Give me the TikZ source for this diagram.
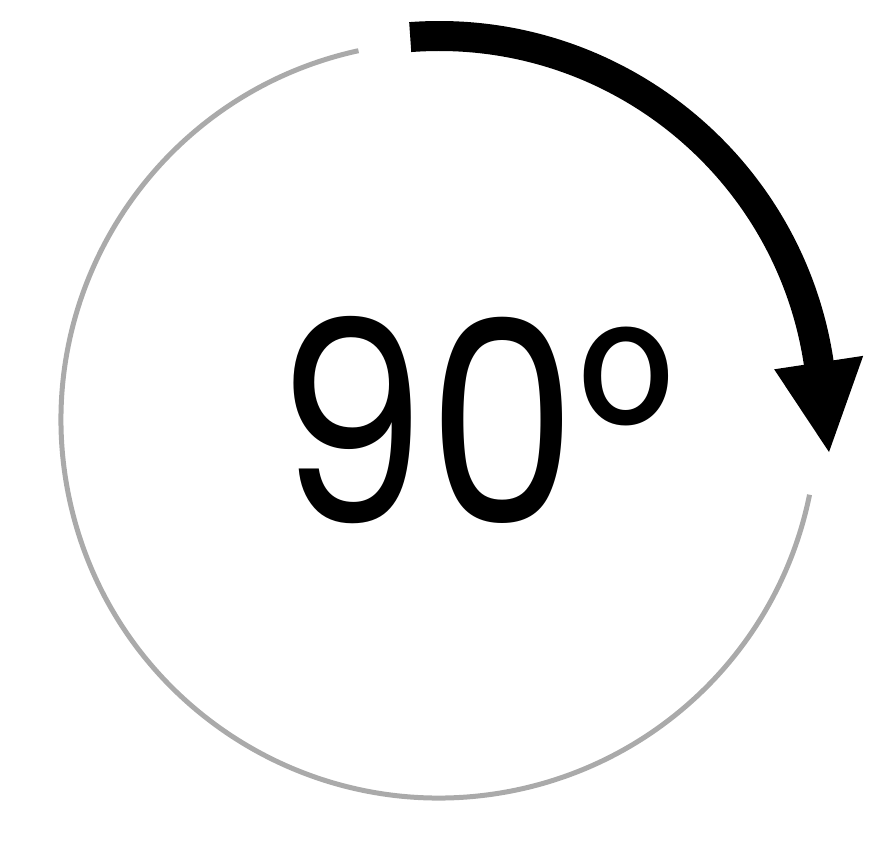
\documentclass[tikz,border=0pt]{standalone}
\usepackage{fontspec}
\setmainfont{Poppins}
\usepackage{xcolor}
\usetikzlibrary{calc}
\definecolor{ringgray}{HTML}{AAAAAA}
\tikzset{
  ringline/.style={draw=ringgray, line width=0.1cm},
  turnshaft/.style={draw=black, line width=0.6cm},
  turnhead/.style={fill=black},
  anglelabel/.style={font=\fontsize{160}{160}\selectfont, inner sep=0pt, xscale=0.85},
}
\begin{document}
\begin{tikzpicture}[x=0.02cm, y=0.02cm]
  \useasboundingbox (0,0) rectangle (884,846);
  \coordinate (c) at (439,426);

  % faint ring, open at the top right
  \draw[ringline] ($(c)+(102.3:378)$) arc[start angle=102.3, end angle=348.6, radius=378];

  % quarter turn arrow
  \draw[turnshaft] ($(c)+(94.3:384)$) arc[start angle=94.3, end angle=7, radius=384];
  \coordinate (hl) at ($(c)+(8.6:339)$);
  \coordinate (hr) at ($(c)+(8.6:429)$);
  \coordinate (tip) at ($(c)+(390,-32)$);
  \fill[turnhead] (hl) -- (hr) -- (tip) -- cycle;

  \node[anglelabel] (deg) at (476,426) {90°};
\end{tikzpicture}
\end{document}
